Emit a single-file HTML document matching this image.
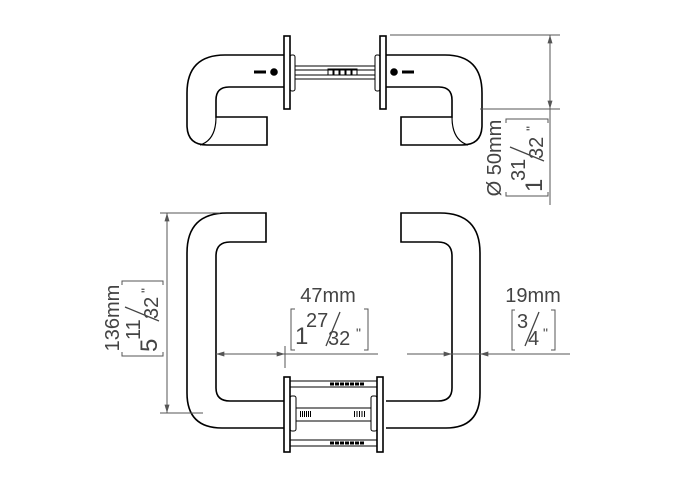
<!DOCTYPE html>
<html><head><style>
html,body{margin:0;padding:0;background:#fff;}
svg{display:block;font-family:"Liberation Sans",sans-serif;}
</style></head><body>
<svg width="678" height="480" viewBox="0 0 678 480">
<defs>
<marker id="a" viewBox="0 0 10 6" refX="10" refY="3" markerWidth="14" markerHeight="5" orient="auto-start-reverse" markerUnits="userSpaceOnUse"><path d="M0,0 L10,3 L0,6 z" fill="#555"/></marker>
</defs>
<g fill="none" stroke="#000" stroke-width="1.6">
<path d="M284,55 L225,55 Q187,55 187,93 L187,125 Q187,145 207,145 L267,145 L267,117 L216,117 L216,100 Q216,87 229,87 L284,87"/>
<path d="M216,117 Q216,140 200,145" stroke-width="1.2"/>
<path d="M386,55 L445,55 Q482,55 482,93 L482,125 Q482,145 462,145 L401,145 L401,117 L452,117 L452,100 Q452,87 439,87 L386,87"/>
<path d="M452,117 Q452,140 468,145" stroke-width="1.2"/>
<rect x="284" y="36" width="6" height="73" fill="#fff"/>
<rect x="380" y="36" width="6" height="73" fill="#fff"/>
<rect x="290" y="55" width="5" height="36" rx="2" stroke-width="1"/>
<rect x="375" y="55" width="5" height="36" rx="2" stroke-width="1"/>
<g stroke-width="1">
<line x1="295" y1="66" x2="375" y2="66"/><line x1="295" y1="79" x2="375" y2="79"/>
<line x1="295" y1="70" x2="375" y2="70"/><line x1="295" y1="75" x2="375" y2="75"/>
<rect x="328" y="69" width="5" height="6"/><rect x="334" y="69" width="5" height="6"/><rect x="340" y="69" width="5" height="6"/><rect x="346" y="69" width="5" height="6"/><rect x="352" y="69" width="5" height="6"/>
</g>
<circle cx="274" cy="72" r="3" fill="#000"/><circle cx="394" cy="72" r="3" fill="#000"/>
<line x1="254" y1="72" x2="266" y2="72" stroke-width="3"/><line x1="402" y1="72" x2="414" y2="72" stroke-width="3"/>

<path d="M284,428 L222,428 Q187,428 187,393 L187,253 Q187,213 227,213 L266,213 L266,242 L230,242 Q216,242 216,256 L216,388 Q216,401 230,401 L284,401"/>
<path d="M386,428 L446,428 Q480,428 480,393 L480,253 Q480,213 440,213 L401,213 L401,242 L438,242 Q452,242 452,256 L452,388 Q452,401 438,401 L386,401"/>
<rect x="284" y="377" width="6" height="75" fill="#fff"/>
<rect x="377" y="377" width="6" height="75" fill="#fff"/>
<rect x="290" y="396" width="6" height="35" rx="2" stroke-width="1"/>
<rect x="371" y="396" width="6" height="35" rx="2" stroke-width="1"/>
<g stroke-width="1">
<rect x="290" y="381" width="87" height="6"/><rect x="290" y="440" width="87" height="6"/>
<rect x="296" y="408" width="75" height="13"/>
<line x1="330" y1="384" x2="365" y2="384" stroke-width="3" stroke-dasharray="4,1"/>
<line x1="330" y1="443" x2="365" y2="443" stroke-width="3" stroke-dasharray="4,1"/>
<line x1="300" y1="414" x2="312" y2="414" stroke-width="6" stroke-dasharray="1,1"/>
<line x1="354" y1="414" x2="366" y2="414" stroke-width="6" stroke-dasharray="1,1.5"/>
</g>
</g>
<g stroke="#555" stroke-width="1" fill="none">
<line x1="390" y1="35" x2="560" y2="35"/><line x1="480" y1="109" x2="560" y2="109"/>
<line x1="550" y1="35" x2="550" y2="109" marker-start="url(#a)" marker-end="url(#a)"/>
<line x1="550" y1="109" x2="550" y2="205"/>
<line x1="160" y1="213" x2="220" y2="213"/><line x1="160" y1="413" x2="203" y2="413"/>
<line x1="167" y1="213" x2="167" y2="413" marker-start="url(#a)" marker-end="url(#a)"/>
<line x1="216" y1="354" x2="250" y2="354" marker-start="url(#a)"/>
<line x1="250" y1="354" x2="285" y2="354" marker-end="url(#a)"/>
<line x1="285" y1="354" x2="378" y2="354"/>
<line x1="285" y1="346" x2="285" y2="368"/>
<line x1="407" y1="354" x2="452" y2="354" marker-end="url(#a)"/>
<line x1="452" y1="354" x2="480" y2="354"/>
<line x1="570" y1="354" x2="480" y2="354" marker-end="url(#a)"/>
<path d="M515,310 L512,310 L512,350 L515,350 M551,310 L555,310 L555,350 L551,350"/>
</g>
<g fill="#444">
<text x="328" y="302" font-size="20" text-anchor="middle">47mm</text>
<g transform="translate(290,350)">
<path d="M5,-41 L1,-41 L1,0 L5,0 M74,-41 L78,-41 L78,0 L74,0" fill="none" stroke="#555" stroke-width="1"/>
<text x="5" y="-6" font-size="24">1</text>
<text x="16" y="-23" font-size="20">27</text>
<line x1="50" y1="-38" x2="36" y2="-4" stroke="#444" stroke-width="1.3"/>
<text x="38" y="-5" font-size="20">32</text>
<text x="66" y="-12" font-size="14">"</text>
</g>
<text x="533" y="302" font-size="20" text-anchor="middle">19mm</text>
<text x="517" y="328" font-size="20">3</text>
<line x1="539" y1="312" x2="525" y2="346" stroke="#444" stroke-width="1.3"/>
<text x="528" y="345" font-size="20">4</text>
<text x="543" y="338" font-size="14">"</text>
<g transform="translate(119,318) rotate(-90)"><text x="0" y="0" font-size="20" text-anchor="middle">136mm</text></g>
<g transform="translate(163,357) rotate(-90)">
<path d="M5,-41 L1,-41 L1,0 L5,0 M72,-41 L76,-41 L76,0 L72,0" fill="none" stroke="#555" stroke-width="1"/>
<text x="5" y="-6" font-size="24">5</text>
<text x="17" y="-23" font-size="20">11</text>
<line x1="50" y1="-38" x2="36" y2="-4" stroke="#444" stroke-width="1.3"/>
<text x="38" y="-5" font-size="20">32</text>
<text x="64" y="-12" font-size="14">"</text>
</g>
<g transform="translate(501,158) rotate(-90)"><text x="0" y="0" font-size="20" text-anchor="middle">Ø 50mm</text></g>
<g transform="translate(548,197) rotate(-90)">
<path d="M5,-42 L1,-42 L1,0 L5,0 M74,-42 L78,-42 L78,0 L74,0" fill="none" stroke="#555" stroke-width="1"/>
<text x="5" y="-6" font-size="24">1</text>
<text x="16" y="-23" font-size="20">31</text>
<line x1="50" y1="-38" x2="36" y2="-4" stroke="#444" stroke-width="1.3"/>
<text x="38" y="-5" font-size="20">32</text>
<text x="66" y="-12" font-size="14">"</text>
</g>
</g>
</svg>
</body></html>
